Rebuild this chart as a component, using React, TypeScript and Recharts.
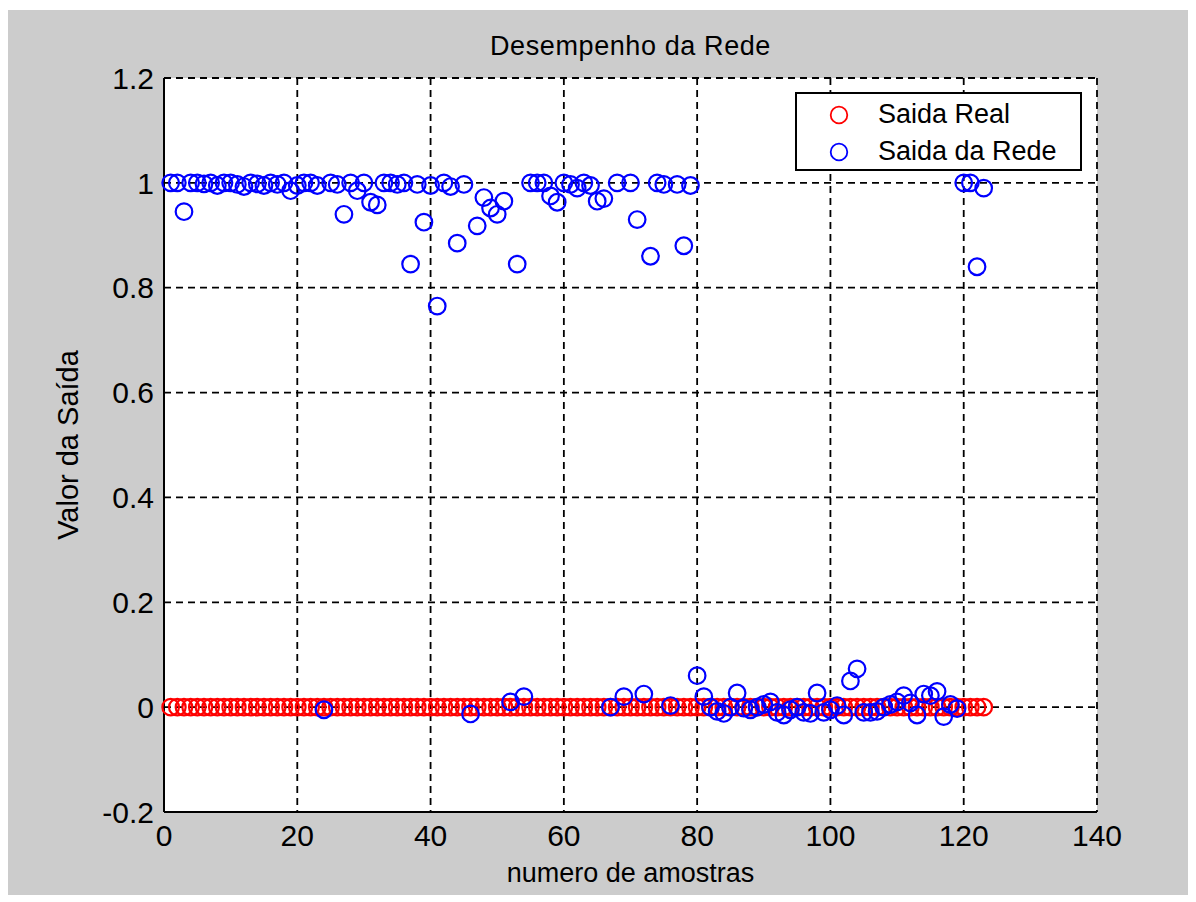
import { CartesianGrid, Label, Legend, Scatter, ScatterChart, XAxis, YAxis } from "recharts";

const xTicks = [0, 20, 40, 60, 80, 100, 120, 140];
const yTicks = [-0.2, 0, 0.2, 0.4, 0.6, 0.8, 1, 1.2];

const chartTitle = "Desempenho da Rede";
const seriesNames = ["Saida Real", "Saida da Rede"];
const seriesColors = ["#ff0000", "#0000ff"];

// saida real (target) for samples 1..123
const saidaReal = [
  0, 0, 0, 0, 0, 0, 0, 0, 0, 0, 0, 0, 0, 0, 0, 0, 0, 0, 0, 0,
  0, 0, 0, 0, 0, 0, 0, 0, 0, 0, 0, 0, 0, 0, 0, 0, 0, 0, 0, 0,
  0, 0, 0, 0, 0, 0, 0, 0, 0, 0, 0, 0, 0, 0, 0, 0, 0, 0, 0, 0,
  0, 0, 0, 0, 0, 0, 0, 0, 0, 0, 0, 0, 0, 0, 0, 0, 0, 0, 0, 0,
  0, 0, 0, 0, 0, 0, 0, 0, 0, 0, 0, 0, 0, 0, 0, 0, 0, 0, 0, 0,
  0, 0, 0, 0, 0, 0, 0, 0, 0, 0, 0, 0, 0, 0, 0, 0, 0, 0, 0, 0,
  0, 0, 0,
];

// saida da rede (network output) for samples 1..123
const saidaRede = [
  1.0, 1.0, 0.945, 1.0, 1.0, 0.998, 1.0, 0.995, 1.0, 1.0,
  0.997, 0.993, 1.0, 0.998, 0.995, 1.0, 0.997, 1.0, 0.985, 0.995,
  1.0, 1.0, 0.995, -0.005, 1.0, 0.997, 0.94, 1.0, 0.985, 1.0,
  0.963, 0.958, 1.0, 1.0, 0.997, 1.0, 0.845, 0.997, 0.925, 0.995,
  0.765, 1.0, 0.993, 0.885, 0.997, -0.013, 0.918, 0.972, 0.952, 0.94,
  0.965, 0.01, 0.845, 0.02, 1.0, 1.0, 1.0, 0.975, 0.963, 1.0,
  0.997, 0.99, 1.0, 0.995, 0.965, 0.97, 0.0, 1.0, 0.02, 1.0,
  0.93, 0.025, 0.86, 1.0, 0.997, 0.003, 0.997, 0.88, 0.995, 0.06,
  0.02, 0.0, -0.008, -0.012, 0.0, 0.027, -0.002, -0.005, 0.0, 0.005,
  0.01, -0.01, -0.015, -0.005, 0.0, -0.01, -0.012, 0.027, -0.01, -0.005,
  0.003, -0.015, 0.05, 0.073, -0.01, -0.01, -0.008, 0.0, 0.005, 0.01,
  0.022, 0.008, -0.015, 0.025, 0.022, 0.03, -0.018, 0.005, -0.003, 1.0,
  1.0, 0.84, 0.99,
];

const realData = saidaReal.map((y, i) => ({ x: i + 1, y }));
const redeData = saidaRede.map((y, i) => ({ x: i + 1, y }));

const sans = "'Liberation Sans', Arial, sans-serif";
const narrow = "'Liberation Sans Narrow', 'Liberation Sans', Arial, sans-serif";

const ring = (color: string) => (props: any) =>
  <circle cx={props.cx} cy={props.cy} r={8.3} fill="none" stroke={color} strokeWidth={2.2} />;

const LegendBox = () => (
  <div style={{ position: "relative", width: 283, height: 75, border: "2px solid #000", background: "#fff" }}>
    {seriesNames.map((name, i) => (
      <div key={name}>
        <svg style={{ position: "absolute", left: 31, top: 10 + i * 37 }} width={22} height={22}>
          <circle cx={11} cy={11} r={8.3} fill="none" stroke={seriesColors[i]} strokeWidth={1.8} />
        </svg>
        <span
          style={{
            position: "absolute",
            left: 81,
            top: 3 + i * 37,
            fontFamily: sans,
            fontSize: 27,
            lineHeight: "34px",
            color: "#000",
            whiteSpace: "nowrap",
          }}
        >
          {name}
        </span>
      </div>
    ))}
  </div>
);

export default function App() {
  return (
    <div
      style={{
        position: "relative",
        width: 1182,
        height: 885,
        marginTop: 2,
        marginLeft: -1,
        background: "#cccccc",
        fontFamily: sans,
      }}
    >
      <div
        style={{
          position: "absolute",
          left: 157,
          top: 23,
          width: 933,
          textAlign: "center",
          fontSize: 27,
          letterSpacing: 0.6,
          lineHeight: "27px",
          color: "#000",
          zIndex: 1,
        }}
      >
        {chartTitle}
      </div>
      <ScatterChart width={1182} height={885} margin={{ top: 68, right: 92, bottom: 0, left: 0 }}>
        <CartesianGrid stroke="#000" strokeWidth={1.8} strokeDasharray="7 5" fill="#fff" fillOpacity={1} />
        <XAxis
          dataKey="x"
          type="number"
          domain={[0, 140]}
          ticks={xTicks}
          height={83}
          tickSize={0}
          tickMargin={13}
          axisLine={{ stroke: "#000", strokeWidth: 2 }}
          tick={{ fontFamily: narrow, fontSize: 30, fill: "#000" }}
        >
          <Label value="numero de amostras" position="insideBottom" offset={13} fontFamily={sans} fontSize={27} fill="#000" />
        </XAxis>
        <YAxis
          dataKey="y"
          type="number"
          domain={[-0.2, 1.2]}
          ticks={yTicks}
          width={157}
          tickSize={0}
          tickMargin={10}
          axisLine={{ stroke: "#000", strokeWidth: 2 }}
          tick={{ fontFamily: narrow, fontSize: 30, fill: "#000" }}
          tickFormatter={(v: number) => String(Math.round(v * 10) / 10)}
        >
          <Label
            value="Valor da Saída"
            angle={-90}
            position="insideLeft"
            offset={61}
            fontFamily={sans}
            fontSize={29}
            fill="#000"
            style={{ textAnchor: "middle" }}
          />
        </YAxis>
        <XAxis
          xAxisId="top"
          orientation="top"
          type="number"
          domain={[0, 140]}
          ticks={xTicks}
          height={0}
          tick={false}
          tickLine={false}
          axisLine={{ stroke: "#000", strokeWidth: 2 }}
        />
        <YAxis
          yAxisId="right"
          orientation="right"
          type="number"
          domain={[-0.2, 1.2]}
          ticks={yTicks}
          width={0}
          tick={false}
          tickLine={false}
          axisLine={{ stroke: "#000", strokeWidth: 2 }}
        />
        <Legend
          layout="vertical"
          align="center"
          verticalAlign="middle"
          content={<LegendBox />}
          wrapperStyle={{ left: 788, top: 82, width: 287, height: 79 }}
        />
        <Scatter name={seriesNames[0]} data={realData} fill={seriesColors[0]} shape={ring(seriesColors[0])} isAnimationActive={false} />
        <Scatter name={seriesNames[1]} data={redeData} fill={seriesColors[1]} shape={ring(seriesColors[1])} isAnimationActive={false} />
      </ScatterChart>
    </div>
  );
}
